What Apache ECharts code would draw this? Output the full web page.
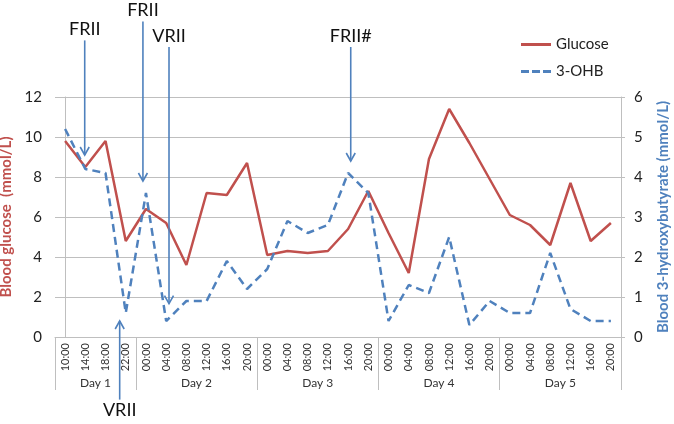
<!DOCTYPE html>
<html><head><meta charset="utf-8">
<script src="https://cdn.jsdelivr.net/npm/echarts@6/dist/echarts.min.js"></script>
<style>html,body{margin:0;padding:0;background:#fff}#c{width:674px;height:424px}</style>
</head><body><div id="c"></div>
<script>
const times = ['10:00','14:00','18:00','22:00',
  '00:00','04:00','08:00','12:00','16:00','20:00',
  '00:00','04:00','08:00','12:00','16:00','20:00',
  '00:00','04:00','08:00','12:00','16:00','20:00',
  '00:00','04:00','08:00','12:00','16:00','20:00'];
const dayLabels = ['Day 1','Day 2','Day 3','Day 4','Day 5'];
const daySpans = [4,6,6,6,6];
const glucose = [9.8,8.5,9.8,4.8, 6.4,5.7,3.6,7.2,7.1,8.7, 4.1,4.3,4.2,4.3,5.4,7.3, 5.2,3.2,8.9,11.4,9.7,7.9, 6.1,5.6,4.6,7.7,4.8,5.7];
const ohb = [5.2,4.2,4.1,0.6, 3.6,0.4,0.9,0.9,1.9,1.2, 1.7,2.9,2.6,2.8,4.1,3.6, 0.4,1.3,1.1,2.5,0.3,0.9, 0.6,0.6,2.1,0.7,0.4,0.4];
// annotations: label, x (category index), arrow tip and tail (glucose units)
const annLabels = ['FRII','FRII','VRII','FRII#','VRII'];
const annX = [0.97, 3.85, 5.14, 14.13, 2.7];
const annTip = [9.1, 7.8, 1.67, 8.8, 0.8];
const annEnd = [14.83, 15.78, 14.5, 14.5, -3.13];

const RED = '#c0504d', BLUE = '#4f81bd', GRID = '#bfbfbf';
const FONT = 'Lato';

const bounds = [-0.5];
const centers = [];
daySpans.forEach((s, i) => { const a = bounds[i]; bounds.push(a + s); centers.push(a + s / 2); });

const chart = echarts.init(document.getElementById('c'));
chart.setOption({
  animation: false,
  textStyle: { fontFamily: FONT },
  grid: { left: 55, right: 53, top: 97, bottom: 87, outerBoundsMode: 'none', containLabel: false },
  legend: {
    orient: 'vertical', left: 516, top: 32, itemWidth: 30, itemHeight: 14, itemGap: 12,
    textStyle: { fontFamily: FONT, fontSize: 15, color: '#222' },
    data: [
      { name: 'Glucose', icon: 'path://M0,0 L30,0 L30,3 L0,3 Z' },
      { name: '3-OHB', icon: 'path://M0,0 L8,0 L8,3 L0,3 Z M11,0 L19,0 L19,3 L11,3 Z M22,0 L30,0 L30,3 L22,3 Z' }
    ]
  },
  xAxis: [
    {
      type: 'category', data: times, boundaryGap: true,
      axisLine: { show: true, lineStyle: { color: GRID } },
      axisTick: { show: false },
      axisLabel: { rotate: 90, interval: 0, fontSize: 11, color: '#333', margin: 6, fontFamily: FONT }
    },
    {
      type: 'value', min: -0.5, max: 27.5, position: 'bottom',
      axisLine: { show: false },
      splitLine: { show: false },
      axisTick: { show: true, customValues: bounds, length: 53, lineStyle: { color: GRID } },
      axisLabel: {
        customValues: centers, margin: 40, fontSize: 12, color: '#333', fontFamily: FONT,
        formatter: v => dayLabels[centers.indexOf(v)]
      }
    }
  ],
  yAxis: [
    {
      type: 'value', min: 0, max: 12, interval: 2,
      axisLine: { show: true, lineStyle: { color: GRID } },
      axisTick: { show: true, length: 4, lineStyle: { color: GRID } },
      splitLine: { lineStyle: { color: GRID } },
      axisLabel: { fontSize: 15, color: '#222', margin: 13, fontFamily: FONT },
      name: 'Blood glucose  (mmol/L)', nameLocation: 'middle', nameGap: 33,
      nameTextStyle: { color: RED, fontWeight: 'bold', fontSize: 15, fontFamily: FONT }
    },
    {
      type: 'value', min: 0, max: 6, interval: 1, position: 'right',
      axisLine: { show: true, lineStyle: { color: GRID } },
      axisTick: { show: true, length: 4, lineStyle: { color: GRID } },
      splitLine: { show: false },
      axisLabel: { fontSize: 15, color: '#222', margin: 13, fontFamily: FONT },
      name: 'Blood 3-hydroxybutyrate (mmol/L)', nameLocation: 'middle', nameGap: 35,
      nameRotate: 90,
      nameTextStyle: { color: BLUE, fontWeight: 'bold', fontSize: 15, fontFamily: FONT }
    }
  ],
  series: [
    {
      name: 'Glucose', type: 'line', data: glucose, xAxisIndex: 0, yAxisIndex: 0,
      symbol: 'none', lineStyle: { color: RED, width: 2.5 }, itemStyle: { color: RED }
    },
    {
      name: '3-OHB', type: 'line', data: ohb, xAxisIndex: 0, yAxisIndex: 1,
      symbol: 'none', lineStyle: { color: BLUE, width: 2.5, type: [8, 5] }, itemStyle: { color: BLUE }
    },
    {
      type: 'custom', xAxisIndex: 1, yAxisIndex: 0, clip: false, silent: true, z: 5,
      data: annX.map((x, i) => [x, annTip[i], annEnd[i]]),
      renderItem: function (params, api) {
        const i = params.dataIndex;
        const x = api.value(0);
        const p1 = api.coord([x, api.value(1)]);
        const p2 = api.coord([x, api.value(2)]);
        const s = p2[1] > p1[1] ? 1 : -1;
        const ly = p2[1] + s * 11;
        return {
          type: 'group',
          children: [
            { type: 'line', shape: { x1: p1[0], y1: p1[1], x2: p2[0], y2: p2[1] },
              style: { stroke: BLUE, lineWidth: 1.6 } },
            { type: 'polyline', shape: { points: [[p1[0] - 4.5, p1[1] + s * 8], [p1[0], p1[1]], [p1[0] + 4.5, p1[1] + s * 8]] },
              style: { stroke: BLUE, lineWidth: 1.6, fill: null } },
            { type: 'text', style: { x: p2[0], y: ly, text: annLabels[i], fill: '#111',
              font: '18px ' + FONT, align: 'center', verticalAlign: 'middle' } }
          ]
        };
      }
    }
  ]
});
</script>
</body></html>
